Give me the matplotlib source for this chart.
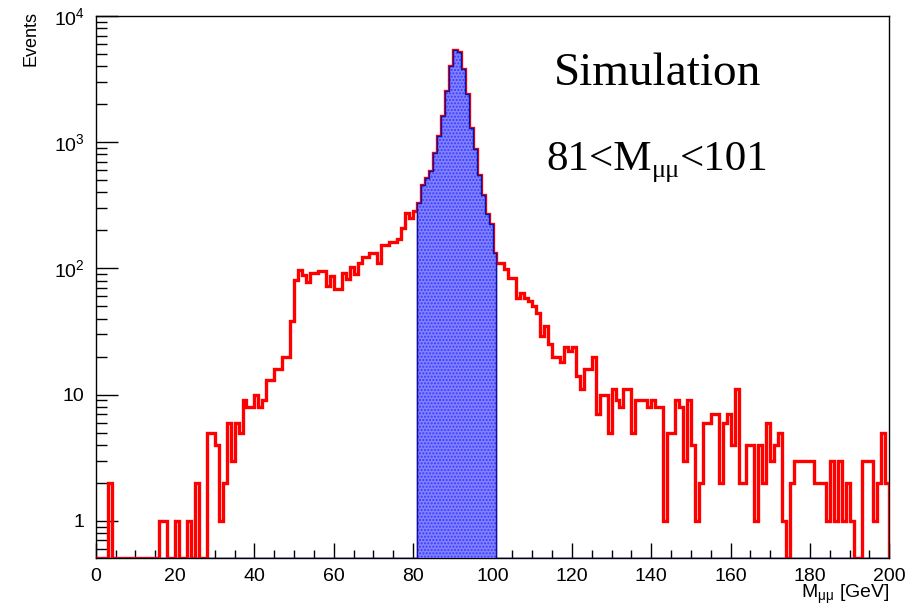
import numpy as np
import matplotlib
matplotlib.use('Agg')
import matplotlib.pyplot as plt
from matplotlib.ticker import FixedLocator, FixedFormatter, MultipleLocator, LogLocator, NullFormatter

plt.rcParams['font.family'] = ['Liberation Sans', 'DejaVu Sans']
plt.rcParams['mathtext.fontset'] = 'custom'
plt.rcParams['mathtext.rm'] = 'Liberation Sans'
plt.rcParams['mathtext.it'] = 'Liberation Sans:italic'
plt.rcParams['hatch.linewidth'] = 1.0

# histogramme M_mumu, bins de 1 GeV de 0 a 200
edges = np.arange(0, 201, 1)
counts = np.array([
    0, 0, 0, 2, 0, 0, 0, 0, 0, 0,            # 0-9
    0, 0, 0, 0, 0, 0, 1, 1, 0, 0,            # 10-19
    1, 0, 0, 1, 0, 2, 0, 0, 5, 5,            # 20-29
    4, 1, 2, 6, 3, 6, 5, 9, 8, 8,            # 30-39
    10, 8, 9, 13, 13, 16, 16, 20, 20, 38,    # 40-49
    81, 98, 88, 78, 92, 92, 95, 95, 72, 87,  # 50-59
    69, 69, 92, 82, 103, 90, 111, 124, 124, 132,   # 60-69
    132, 111, 152, 152, 162, 162, 170, 210, 273, 253,  # 70-79
    285, 332, 456, 525, 592, 828, 1122, 1618, 2554, 3989,  # 80-89
    5405, 5210, 3797, 2404, 1285, 891, 547, 380, 268, 223,  # 90-99
    133, 111, 111, 99, 84, 84, 58, 64, 58, 55,   # 100-109
    50, 44, 29, 35, 25, 20, 20, 18, 24, 22,      # 110-119
    24, 14, 11, 16, 16, 20, 7, 10, 10, 5,        # 120-129
    11, 9, 8, 11, 11, 5, 9, 9, 9, 8,             # 130-139
    9, 8, 8, 1, 5, 5, 9, 8, 3, 9,                # 140-149
    4, 1, 2, 6, 6, 7, 7, 2, 6, 7,                # 150-159
    4, 11, 2, 2, 4, 4, 1, 4, 2, 6,               # 160-169
    3, 4, 5, 1, 0, 2, 3, 3, 3, 3,                # 170-179
    3, 2, 2, 2, 1, 3, 1, 3, 1, 2,                # 180-189
    1, 0, 0, 3, 3, 3, 1, 2, 5, 2,                # 190-199
], dtype=float)

# fenetre de selection
m_lo = 81
m_hi = 101

ymin = 0.508
ymax = 1e4

W, H = 922, 608
fig = plt.figure(figsize=(W / 100, H / 100), dpi=100)
ax = fig.add_axes([95.7 / W, 1 - 558 / H, (889.3 - 95.7) / W, (558 - 16) / H])

# les bins vides sont dessines au bas du cadre
h_plot = np.maximum(counts, ymin)
sel = np.where((edges[:-1] >= m_lo) & (edges[:-1] < m_hi), counts, 0.0)
sel_plot = np.maximum(sel, ymin)

ax.stairs(sel_plot, edges, color='#2020c0', lw=1.0, baseline=ymin, zorder=2)
ax.stairs(h_plot, edges, color='#ff0000', lw=2.4, baseline=ymin, zorder=3)
ax.stairs(counts[m_lo:m_hi], edges[m_lo:m_hi + 1], baseline=ymin, fill=True,
          facecolor='#8282ff', edgecolor='#3a3aff', hatch='.....', lw=0, zorder=4)
ax.stairs(sel_plot, edges, color='#1010a0', lw=1.0, baseline=ymin, zorder=5)

ax.set_yscale('log')
ax.set_xlim(0, 200)
ax.set_ylim(ymin, ymax)

ax.xaxis.set_major_locator(MultipleLocator(20))
ax.xaxis.set_minor_locator(MultipleLocator(5))
ax.yaxis.set_major_locator(FixedLocator([1, 10, 100, 1000, 10000]))
ax.yaxis.set_major_formatter(FixedFormatter(['1', '10', r'$10^{2}$', r'$10^{3}$', r'$10^{4}$']))
ax.yaxis.set_minor_locator(LogLocator(base=10, subs=np.arange(2, 10)))
ax.yaxis.set_minor_formatter(NullFormatter())

ax.tick_params(axis='x', which='major', direction='in', length=11, width=1, labelsize=14, pad=7)
ax.tick_params(axis='x', which='minor', direction='in', length=6, width=1)
ax.tick_params(axis='y', which='major', direction='in', length=16, width=1, labelsize=14, pad=8)
ax.tick_params(axis='y', which='minor', direction='in', length=8, width=1)
for s in ax.spines.values():
    s.set_linewidth(1.0)

fig.text(31 / W, 1 - 11 / H, 'Events', rotation=90, ha='center', va='top', fontsize=13)
fig.text(890 / W, 1 - 606 / H, r'$\mathregular{M_{μμ}}$ [GeV]', ha='right', va='bottom', fontsize=14)

fig.text(658 / W, 1 - 85 / H, 'Simulation', ha='center', va='baseline',
         fontsize=34, family='Liberation Serif')

# 81<M_mumu<101 : morceaux colles les uns aux autres
t1 = fig.text(546 / W, 1 - 170 / H, '81<M', ha='left', va='baseline',
              fontsize=31, family='Liberation Serif')
t2 = fig.text(0, 0, 'μμ', fontsize=19, family='Liberation Serif', ha='left', va='baseline')
t3 = fig.text(0, 0, '<101', fontsize=31, family='Liberation Serif', ha='left', va='baseline')
fig.canvas.draw()
r = fig.canvas.get_renderer()
b1 = t1.get_window_extent(r)
t2.set_position((b1.x1 / W, (1 - 170 / H) - 7 / H))
b2 = t2.get_window_extent(r)
t3.set_position((b2.x1 / W, 1 - 170 / H))

fig.savefig('out.png', dpi=100)
